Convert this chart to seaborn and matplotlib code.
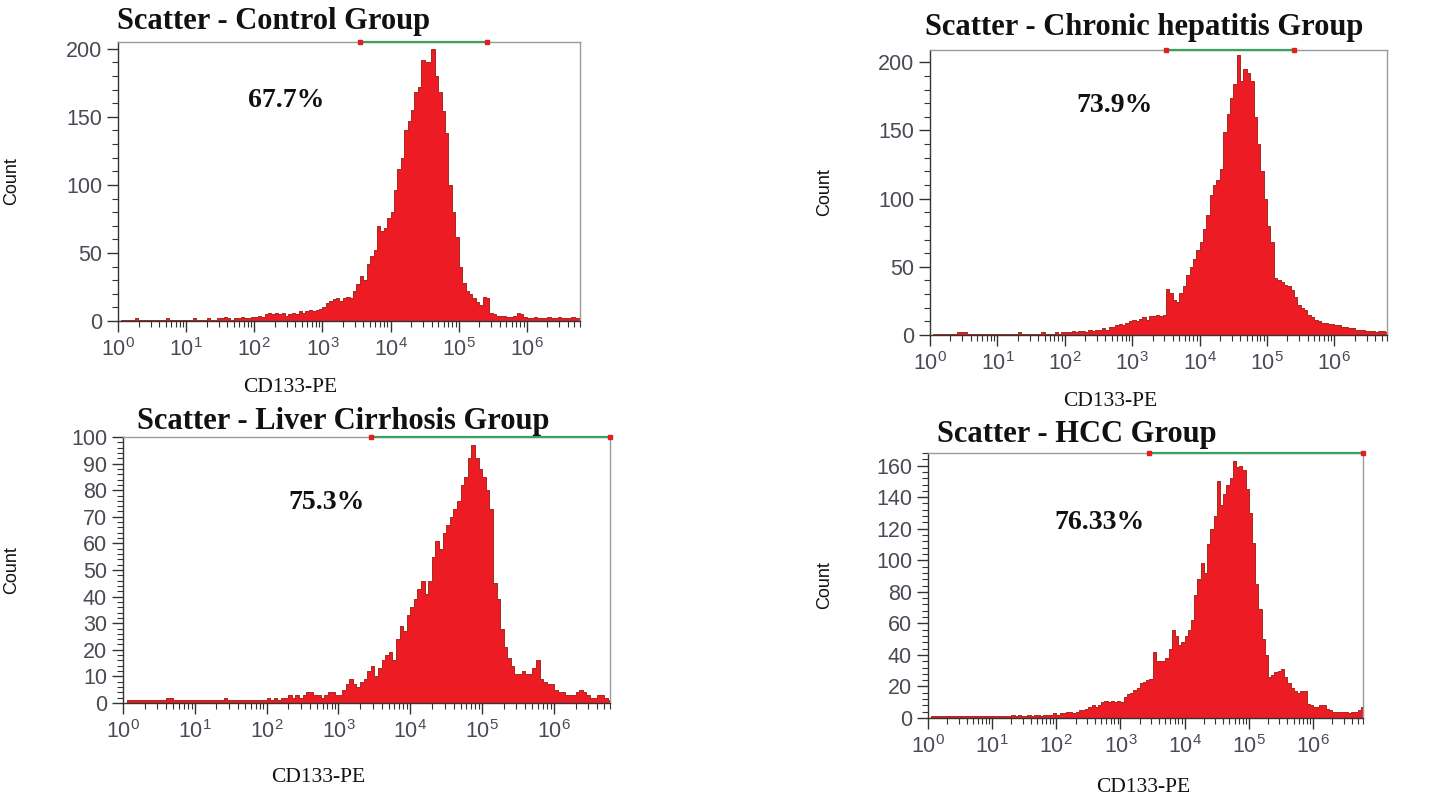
import numpy as np
import pandas as pd
import matplotlib
matplotlib.use("Agg")
import matplotlib.pyplot as plt
from matplotlib.ticker import MultipleLocator, LogLocator
import seaborn as sns

# ---------------- data (counts per 0.05-decade channel, log10 0.0 .. 6.8) -------------
titles = ["Scatter - Control Group", "Scatter - Chronic hepatitis Group",
          "Scatter - Liver Cirrhosis Group", "Scatter - HCC Group"]
percents = ["67.7%", "73.9%", "75.3%", "76.33%"]
x_label = "CD133-PE"
y_label = "Count"

control_counts = [
    0, 1, 1, 1, 1, 2, 1, 1, 1, 1, 1, 1, 1, 1, 2, 1, 1, 1, 1, 1,
    1, 1, 2, 1, 1, 1, 2, 1, 1, 2, 2, 3, 2, 1, 2, 2, 3, 2, 2, 3,
    3, 4, 3, 5, 6, 5, 6, 5, 6, 4, 5, 6, 5, 7, 6, 7, 8, 7, 8, 9,
    10, 13, 15, 16, 17, 15, 17, 18, 17, 22, 27, 33, 30, 42, 48, 52, 70, 66, 68, 76,
    80, 96, 112, 120, 140, 147, 155, 168, 172, 192, 190, 190, 200, 180, 168, 154, 138, 100, 80, 62,
    40, 28, 22, 20, 17, 14, 12, 18, 17, 6, 5, 4, 4, 4, 3, 3, 4, 6, 5, 3,
    2, 2, 3, 2, 2, 2, 3, 2, 2, 3, 2, 2, 2, 3, 2, 2,
]
hepatitis_counts = [
    0, 1, 1, 1, 1, 1, 1, 1, 2, 2, 2, 1, 1, 1, 1, 1, 1, 1, 1, 1,
    1, 1, 1, 1, 1, 1, 2, 1, 1, 1, 1, 1, 1, 2, 1, 1, 1, 2, 1, 2,
    2, 2, 3, 2, 3, 3, 2, 4, 3, 4, 4, 5, 4, 6, 6, 7, 8, 7, 9, 10,
    11, 10, 12, 13, 11, 14, 14, 15, 14, 15, 34, 31, 26, 24, 31, 36, 44, 50, 56, 62,
    68, 78, 88, 103, 110, 114, 122, 149, 162, 174, 184, 205, 186, 195, 192, 186, 160, 140, 120, 100,
    80, 68, 42, 40, 39, 37, 36, 33, 28, 22, 20, 18, 15, 13, 11, 10, 9, 9, 8, 8,
    7, 7, 6, 6, 5, 5, 4, 4, 4, 3, 3, 3, 2, 3, 3, 2,
]
cirrhosis_counts = [
    0, 1, 1, 1, 1, 1, 1, 1, 1, 1, 1, 1, 2, 2, 1, 1, 1, 1, 1, 1,
    1, 1, 1, 1, 1, 1, 1, 1, 2, 1, 1, 1, 1, 1, 1, 1, 1, 1, 1, 1,
    2, 1, 2, 1, 2, 2, 3, 2, 3, 2, 3, 4, 4, 3, 3, 2, 3, 4, 4, 3,
    3, 5, 7, 9, 7, 6, 8, 9, 12, 14, 10, 13, 16, 18, 19, 16, 24, 29, 27, 33,
    36, 39, 43, 46, 41, 46, 55, 61, 58, 64, 67, 70, 73, 76, 82, 85, 92, 97, 92, 88,
    85, 80, 73, 45, 39, 28, 21, 17, 14, 11, 11, 12, 11, 11, 13, 16, 9, 8, 7, 7,
    5, 4, 4, 3, 3, 3, 4, 5, 4, 3, 2, 2, 3, 3, 2, 1,
]
hcc_counts = [
    0, 1, 1, 1, 1, 1, 1, 1, 1, 1, 1, 1, 1, 1, 1, 1, 1, 1, 1, 1,
    1, 1, 1, 1, 1, 1, 2, 1, 2, 1, 1, 2, 1, 2, 2, 1, 2, 2, 2, 3,
    2, 3, 3, 4, 4, 3, 4, 5, 5, 6, 7, 8, 7, 8, 10, 11, 10, 11, 10, 11,
    10, 13, 15, 16, 18, 19, 22, 23, 24, 25, 42, 36, 36, 36, 38, 44, 56, 52, 46, 48,
    52, 56, 62, 78, 88, 98, 92, 110, 120, 128, 150, 135, 142, 148, 152, 163, 159, 160, 157, 145,
    130, 111, 85, 69, 50, 40, 26, 27, 29, 30, 31, 26, 22, 19, 17, 16, 17, 17, 9, 8,
    7, 7, 8, 8, 6, 5, 4, 4, 4, 4, 4, 3, 4, 4, 5, 7,
]
panel_counts = [control_counts, hepatitis_counts, cirrhosis_counts, hcc_counts]

y_max = [205, 209, 100, 168]
y_major = [50, 50, 10, 20]
y_minor = [10, 10, 2, 4]
gate_lo = [3.55, 3.5, 3.45, 3.45]   # log10 of gate start (marker on top frame)
gate_hi = [5.42, 5.4, 6.78, 6.78]

# ---------------- layout (pixels of a 1443x796 figure) ----------------
W, H = 1443, 796
axes_px = [(118, 42, 580, 321), (930, 50, 1387, 335),
           (123, 437, 610, 703), (928, 453, 1363, 718)]
title_px = [(117, 22), (925, 28), (137, 422), (937, 435)]
pct_pos = [(0.364, 0.792), (0.403, 0.807), (0.419, 0.752), (0.395, 0.736)]
xlab_pos = [(0.372, -0.205), (0.394, -0.20), (0.40, -0.245), (0.494, -0.225)]
ylab_x = [-0.212, -0.212, -0.211, -0.218]

sns.set_style("ticks")
plt.rcParams["font.family"] = ["Liberation Sans", "DejaVu Sans"]
plt.rcParams["mathtext.fontset"] = "custom"
plt.rcParams["mathtext.rm"] = "Liberation Sans"
plt.rcParams["mathtext.it"] = "Liberation Sans:italic"
plt.rcParams["mathtext.bf"] = "Liberation Sans:bold"

fig = plt.figure(figsize=(W / 100, H / 100), dpi=100)
fig.patch.set_facecolor("white")

n_bins = len(control_counts)
bin_w = 0.05
log_centers = bin_w / 2 + bin_w * np.arange(n_bins)

fill_col = "#ED1C24"
edge_col = "#A52A1E"
label_col = "#4A4A55"

for i in range(4):
    l, t, r, b = axes_px[i]
    ax = fig.add_axes([l / W, 1 - b / H, (r - l) / W, (b - t) / H])
    df = pd.DataFrame({"CD133": 10 ** log_centers, "count": panel_counts[i]})
    sns.histplot(data=df, x="CD133", weights="count", log_scale=True,
                 binwidth=bin_w, binrange=(0.0, bin_w * n_bins),
                 element="step", fill=True, color=fill_col, alpha=1.0,
                 edgecolor=edge_col, linewidth=0.7, ax=ax)
    ax.set_xlim(1, 10 ** 6.78)
    ax.set_ylim(0, y_max[i])
    ax.xaxis.set_major_locator(LogLocator(base=10, numticks=30))
    ax.xaxis.set_minor_locator(LogLocator(base=10, subs=np.arange(2, 10), numticks=30))
    ax.yaxis.set_major_locator(MultipleLocator(y_major[i]))
    ax.yaxis.set_minor_locator(MultipleLocator(y_minor[i]))
    ax.tick_params(axis="both", which="major", direction="out", length=8,
                   width=1, color="#333333", labelsize=15.5, labelcolor=label_col)
    ax.tick_params(axis="both", which="minor", direction="out", length=4,
                   width=0.8, color="#333333")
    ax.tick_params(axis="x", which="minor", labelbottom=False)
    ax.tick_params(axis="x", which="major", pad=4)
    for side in ["top", "right"]:
        ax.spines[side].set_visible(True)
        ax.spines[side].set_color("#9A9A9A")
        ax.spines[side].set_linewidth(1.0)
    for side in ["left", "bottom"]:
        ax.spines[side].set_color("#333333")
        ax.spines[side].set_linewidth(1.0)

    # gate marker on top frame
    ax.hlines(y_max[i], 10 ** gate_lo[i], 10 ** gate_hi[i], color="#3CA060",
              lw=1.6, clip_on=False, zorder=5)
    ax.plot([10 ** gate_lo[i], 10 ** gate_hi[i]], [y_max[i], y_max[i]], "s",
            color="#E02020", ms=2.5, clip_on=False, zorder=6)

    ax.set_xlabel(x_label, family=["Liberation Serif"], fontsize=15.5, color="#111111")
    ax.xaxis.set_label_coords(*xlab_pos[i])
    ax.set_ylabel(y_label, family=["Liberation Sans"], fontsize=13, color="#111111")
    ax.yaxis.set_label_coords(ylab_x[i], 0.5)

    ax.text(pct_pos[i][0], pct_pos[i][1], percents[i], transform=ax.transAxes,
            ha="center", va="center", family=["Liberation Serif"],
            fontweight="bold", fontsize=20, color="#111111")

    tx, ty = title_px[i]
    fig.text(tx / W, 1 - ty / H, titles[i], ha="left", va="center",
             family=["Liberation Serif"], fontweight="bold", fontsize=22,
             color="#111111")

fig.savefig("out.png", dpi=100, facecolor="white")
